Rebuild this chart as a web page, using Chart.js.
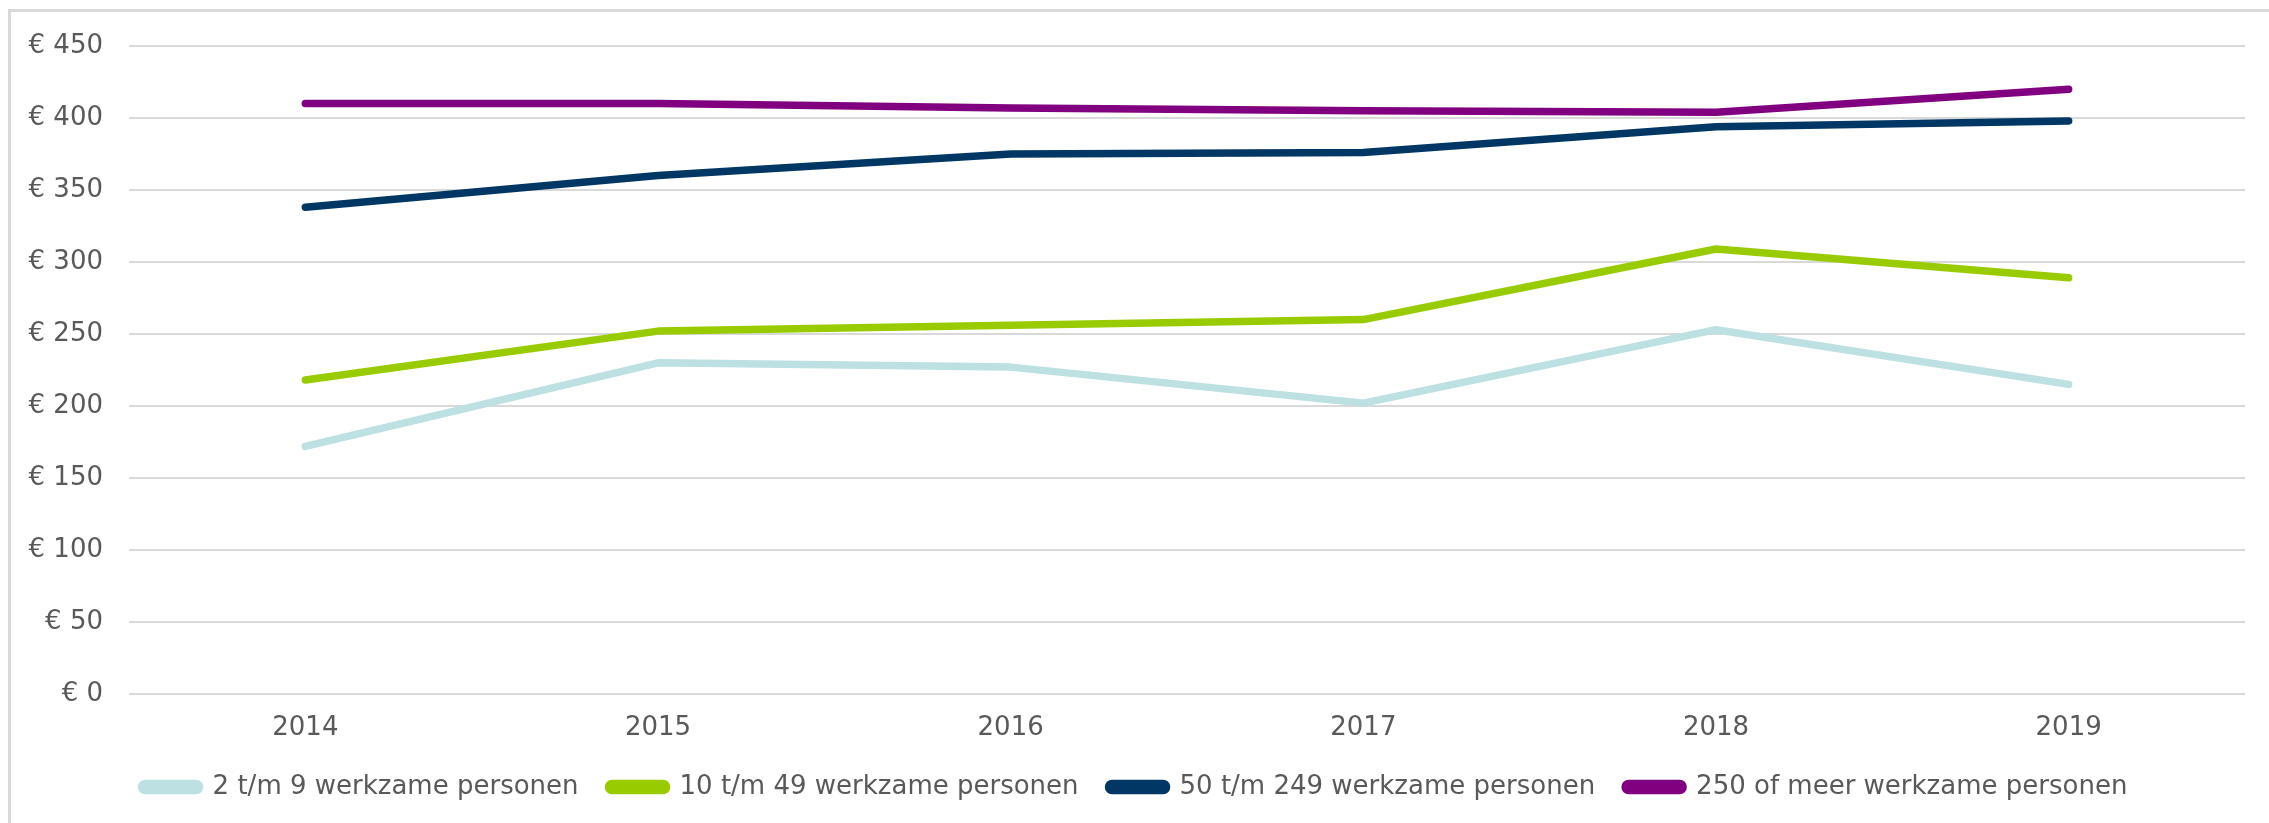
<!DOCTYPE html>
<html>
<head>
<meta charset="utf-8">
<script src="https://cdn.jsdelivr.net/npm/chart.js@4"></script>
<style>
  html, body { margin: 0; padding: 0; background: #fff; overflow: hidden; }
  #wrap { position: relative; width: 2269px; height: 823px; overflow: hidden; }
  #frame { position: absolute; left: 8px; top: 9px; right: -10px; bottom: -10px; border-left: 3px solid #d9d9d9; border-top: 3px solid #d9d9d9; }
  #box { position: absolute; left: 0; top: 0; width: 2269px; height: 850px; }
</style>
</head>
<body>
<div id="wrap">
  <div id="frame"></div>
  <div id="box"><canvas id="chart"></canvas></div>
</div>
<script>
const years = ['2014', '2015', '2016', '2017', '2018', '2019'];
const small = [172, 230, 227, 202, 253, 215];
const medium = [218, 252, 256, 260, 309, 289];
const large = [338, 360, 375, 376, 394, 398];
const xlarge = [410, 410, 407, 405, 404, 420];
const seriesNames = [
  '2 t/m 9 werkzame personen',
  '10 t/m 49 werkzame personen',
  '50 t/m 249 werkzame personen',
  '250 of meer werkzame personen'
];
const colors = ['#bde0e3', '#99cc00', '#003764', '#800080'];

const font = "'DejaVu Sans', Verdana, sans-serif";
const textColor = '#595959';

function makeSet(i, values) {
  return {
    label: seriesNames[i],
    data: values,
    borderColor: colors[i],
    backgroundColor: colors[i],
    borderWidth: 7.5,
    borderCapStyle: 'round',
    borderJoinStyle: 'round',
    pointRadius: 0,
    pointHoverRadius: 0,
    tension: 0,
    fill: false
  };
}

new Chart(document.getElementById('chart'), {
  type: 'line',
  data: {
    labels: years,
    datasets: [makeSet(0, small), makeSet(1, medium), makeSet(2, large), makeSet(3, xlarge)]
  },
  options: {
    responsive: true,
    maintainAspectRatio: false,
    animation: false,
    layout: {
      padding: { top: 46, right: 24, bottom: 40, left: 24 }
    },
    plugins: {
      tooltip: { enabled: false },
      legend: {
        position: 'bottom',
        labels: {
          color: textColor,
          font: { family: font, size: 26 },
          boxWidth: 58,
          boxHeight: 7,
          useBorderRadius: true,
          borderRadius: 3.5,
          padding: 30
        }
      }
    },
    scales: {
      x: {
        offset: true,
        grid: { display: false, drawTicks: false },
        border: { display: false },
        ticks: {
          color: textColor,
          font: { family: font, size: 26 },
          padding: 19,
          maxRotation: 0
        },
        afterFit: function(scale) { scale.height = 50; }
      },
      y: {
        min: 0,
        max: 450,
        grid: { color: '#d9d9d9', lineWidth: 2, drawTicks: false },
        border: { display: false },
        ticks: {
          stepSize: 50,
          color: textColor,
          font: { family: font, size: 26 },
          padding: 26,
          callback: function(value) { return '€ ' + value; }
        },
        afterFit: function(scale) { scale.width = 105; }
      }
    }
  }
});
</script>
</body>
</html>
